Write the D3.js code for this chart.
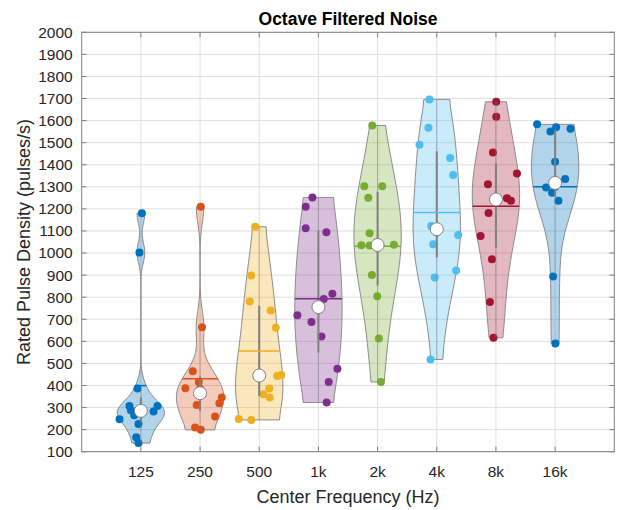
<!DOCTYPE html>
<html><head><meta charset="utf-8">
<script src="https://cdn.jsdelivr.net/npm/d3@7"></script>
<style>html,body{margin:0;padding:0;background:#fff;}svg{display:block;font-family:"Liberation Sans",Arial,sans-serif;}</style>
</head><body><svg id="c" width="621" height="510"></svg>
<script>
const categories = ["125","250","500","1k","2k","4k","8k","16k"];
const colors = ["#0072BD","#D95319","#EDB120","#7E2F8E","#77AC30","#4DBEEE","#A2142F","#0072BD"];
const yTicks = d3.range(100, 2001, 100);
const title = "Octave Filtered Noise";
const xLabel = "Center Frequency (Hz)";
const yLabel = "Rated Pulse Density (pulses/s)";

const v125 = [1180,1002,386,307,307,288,282,247,265,225,165,139];
const v250 = [1210,664,465,416,387,385,345,320,311,260,210,199];
const v500 = [1119,898,781,740,662,447,443,386,360,345,248,244];
const v1k  = [1252,1210,1112,1094,816,792,718,688,622,476,416,323];
const v2k  = [1578,1303,1303,1250,1090,1035,1034,1038,901,804,613,416];
const v4k  = [1696,1568,1491,1431,1353,1123,1093,1082,1040,921,889,518];
const v8k  = [1685,1617,1455,1360,1312,1248,1237,1181,1077,972,778,616];
const v16k = [1583,1570,1563,1551,1413,1335,1300,1297,1273,1237,894,590];

// horizontal jitter of each point, in category units
const j125 = [0.017,-0.024,-0.057,-0.193,0.280,-0.169,0.213,-0.361,-0.113,-0.041,-0.079,-0.041];
const j250 = [0.012,0.034,-0.123,-0.022,-0.248,0,0.367,0.326,-0.056,0.253,-0.084,0.012];
const j500 = [-0.068,-0.135,-0.160,0.194,0.279,0.372,0.304,0.169,0.068,0.177,-0.346,-0.135];
const j1k  = [-0.101,-0.215,-0.215,0.135,0.236,0.090,-0.355,-0.118,0.051,0.321,0.174,0.140];
const j2k  = [-0.090,-0.225,0.079,-0.157,-0.135,-0.275,-0.135,0.275,-0.096,-0.005,0.022,0.056];
const j4k  = [-0.123,-0.140,-0.292,0.226,0.277,-0.095,0,0.362,-0.061,0.328,-0.034,-0.106];
const j8k  = [0.005,0.005,-0.051,0.355,-0.135,0.186,0.253,-0.125,-0.260,-0.068,-0.101,-0.041];
const j16k = [-0.304,0.017,0.259,-0.079,0,0.169,0,-0.152,-0.051,0.056,-0.034,0.005];

const seriesValues = [v125,v250,v500,v1k,v2k,v4k,v8k,v16k];
const seriesJitter = [j125,j250,j500,j1k,j2k,j4k,j8k,j16k];

const W = 621, H = 510;
const m = {l:81.7, r:W-614.3, t:32.3, b:H-451.7};
const svg = d3.select("#c");
const x = d3.scaleLinear().domain([0, categories.length+1]).range([m.l, W-m.r]);
const y = d3.scaleLinear().domain([100, 2000]).range([H-m.b, m.t]);
const violinHalf = 0.4;
const grid = "#dfdfdf", axisCol = "#808080", textCol = "#262626", boxGray = "#808080";

// grid
const g = svg.append("g");
g.selectAll("line.gy").data(yTicks).join("line")
  .attr("x1", x(0)).attr("x2", x(9)).attr("y1", d=>y(d)).attr("y2", d=>y(d))
  .attr("stroke", grid).attr("stroke-width", 1);
g.selectAll("line.gx").data(categories).join("line")
  .attr("x1", (d,i)=>x(i+1)).attr("x2", (d,i)=>x(i+1)).attr("y1", y(100)).attr("y2", y(2000))
  .attr("stroke", grid).attr("stroke-width", 1);

// stats helpers (MATLAB-like)
function quantileM(sorted, p){
  const n = sorted.length;
  let pos = p*n + 0.5;
  if (pos <= 1) return sorted[0];
  if (pos >= n) return sorted[n-1];
  const lo = Math.floor(pos), f = pos - lo;
  return sorted[lo-1] + f*(sorted[lo]-sorted[lo-1]);
}
function kde(data){
  const n = data.length;
  const med = d3.median(data);
  const mad = d3.median(data.map(v=>Math.abs(v-med)));
  const sig = mad/0.6745;
  const bw = sig*Math.pow(4/(3*n), 0.2);
  const lo = d3.min(data) - 3*bw, hi = d3.max(data) + 3*bw;
  const pts = d3.range(100).map(i => lo + (hi-lo)*i/99);
  const dens = pts.map(v => d3.sum(data, d => Math.exp(-0.5*((v-d)/bw)**2))/(n*bw*Math.sqrt(2*Math.PI)));
  const mn = d3.min(data), mx = d3.max(data);
  let val = [], den = [];
  pts.forEach((v,i)=>{ if (v>=mn && v<=mx){ val.push(v); den.push(dens[i]); } });
  val[0] = mn; val[val.length-1] = mx;
  val = [mn*(1-1e-5), ...val, mx*(1+1e-5)];
  den = [0, ...den, 0];
  return {val, den};
}

const layer = svg.append("g");
seriesValues.forEach((data, i) => {
  const pos = i+1, col = colors[i];
  const {val, den} = kde(data);
  const scale = violinHalf / d3.max(den);
  const w = den.map(d => d*scale);
  const ptsR = val.map((v,k)=>[x(pos + w[k]), y(v)]);
  const ptsL = val.map((v,k)=>[x(pos - w[k]), y(v)]).reverse();
  const poly = ptsR.concat(ptsL);
  layer.append("path").attr("d", d3.line()(poly) + "Z")
    .attr("fill", col).attr("fill-opacity", 0.3)
    .attr("stroke", "#8c8c8c").attr("stroke-width", 1);
  const jit = seriesJitter[i];
  layer.append("g").selectAll("circle").data(data).join("circle")
    .attr("cx", (d,k)=>x(pos + jit[k])).attr("cy", d=>y(d)).attr("r", 4)
    .attr("fill", col);
  const s = data.slice().sort(d3.ascending);
  const q1 = quantileM(s, 0.25), q3 = quantileM(s, 0.75), md = quantileM(s, 0.5);
  const iqr = q3 - q1;
  let lw = q1 - 1.5*iqr; lw = d3.min(s.filter(v=>v>=lw));
  let hw = q3 + 1.5*iqr; hw = d3.max(s.filter(v=>v<=hw));
  layer.append("line").attr("x1", x(pos)).attr("x2", x(pos)).attr("y1", y(lw)).attr("y2", y(hw))
    .attr("stroke", boxGray).attr("stroke-opacity", 0.5).attr("stroke-width", 1);
  layer.append("line").attr("x1", x(pos)).attr("x2", x(pos)).attr("y1", y(q1)).attr("y2", y(q3))
    .attr("stroke", boxGray).attr("stroke-width", 2);
  const mean = d3.mean(data);
  let k = val.findIndex(v => v >= mean);
  const t = (mean - val[k-1])/(val[k]-val[k-1]);
  const mw = w[k-1] + t*(w[k]-w[k-1]);
  layer.append("line").attr("x1", x(pos-mw)).attr("x2", x(pos+mw)).attr("y1", y(mean)).attr("y2", y(mean))
    .attr("stroke", col).attr("stroke-width", 1.5);
  layer.append("circle").attr("cx", x(pos)).attr("cy", y(md)).attr("r", 6.5)
    .attr("fill", "#fff").attr("stroke", boxGray).attr("stroke-width", 1);
});

// axes box
const ax = svg.append("g");
ax.append("rect").attr("x", x(0)).attr("y", y(2000)).attr("width", x(9)-x(0)).attr("height", y(100)-y(2000))
  .attr("fill", "none").attr("stroke", axisCol).attr("stroke-width", 1);
yTicks.forEach(v => {
  ax.append("line").attr("x1", x(0)).attr("x2", x(0)+5).attr("y1", y(v)).attr("y2", y(v)).attr("stroke", axisCol);
  ax.append("line").attr("x1", x(9)).attr("x2", x(9)-5).attr("y1", y(v)).attr("y2", y(v)).attr("stroke", axisCol);
});
categories.forEach((c,i) => {
  ax.append("line").attr("x1", x(i+1)).attr("x2", x(i+1)).attr("y1", y(100)).attr("y2", y(100)-5).attr("stroke", axisCol);
  ax.append("line").attr("x1", x(i+1)).attr("x2", x(i+1)).attr("y1", y(2000)).attr("y2", y(2000)+5).attr("stroke", axisCol);
});
ax.selectAll("text.yt").data(yTicks).join("text")
  .attr("x", x(0)-9).attr("y", d=>y(d)).attr("dy", "0.35em").attr("text-anchor", "end")
  .attr("font-size", 15.5).attr("fill", textCol).text(d=>d);
ax.selectAll("text.xt").data(categories).join("text")
  .attr("x", (d,i)=>x(i+1)).attr("y", 477).attr("text-anchor", "middle")
  .attr("font-size", 15.5).attr("fill", textCol).text(d=>d);
svg.append("text").attr("x", (x(0)+x(9))/2).attr("y", 503).attr("text-anchor", "middle")
  .attr("font-size", 18).attr("fill", textCol).text(xLabel);
svg.append("text").attr("transform", `translate(30,${(y(100)+y(2000))/2}) rotate(-90)`)
  .attr("text-anchor", "middle").attr("font-size", 18).attr("fill", textCol).text(yLabel);
svg.append("text").attr("x", (x(0)+x(9))/2).attr("y", 25).attr("text-anchor", "middle")
  .attr("font-size", 17.5).attr("font-weight", "bold").attr("fill", "#000").text(title);
</script></body></html>
